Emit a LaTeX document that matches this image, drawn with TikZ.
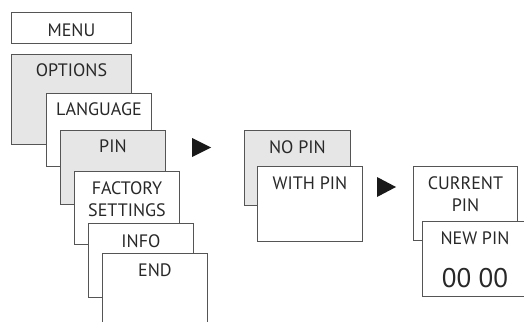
\documentclass[tikz,border=0pt]{standalone}
\usepackage{fontspec}
\setmainfont{PT Sans}
\usetikzlibrary{positioning}
\definecolor{screengray}{RGB}{230,230,231}
\definecolor{linegray}{RGB}{85,85,85}
\definecolor{textgray}{RGB}{40,40,40}
\tikzset{
every picture/.style={x=1pt, y=-1pt}
}
\tikzset{
  screen/.style={draw=linegray, line width=0.9pt, fill=white, anchor=north west,
    inner sep=0pt, minimum width=105pt, minimum height=74pt},
  active/.style={screen, fill=screengray},
  caption/.style={anchor=base, inner sep=0pt, text=textgray, align=center,
    font=\fontsize{18}{22}\selectfont},
  bigcaption/.style={caption, font=\fontsize{27}{30}\selectfont},
  play/.style={fill=black!90}
}

\begin{document}
\begin{tikzpicture}
    \useasboundingbox (0,0) rectangle (524,321);
    \clip (0,0) rectangle (524,321);
    % main menu column
    \node[screen, minimum width=120pt, minimum height=31pt] (menu) at (11,12) {};
    \node[caption] (menutxt) at ([yshift=-25pt]menu.north) {MENU};
    \node[active, minimum width=120pt, minimum height=90pt] (options) at (11,54) {};
    \node[caption] (optionstxt) at ([yshift=-22pt]options.north) {OPTIONS};
    \node[screen, minimum height=73pt] (language) at (46,93) {};
    \node[caption] (languagetxt) at ([yshift=-22pt]language.north) {LANGUAGE};
    \node[active] (pin) at (60,130) {};
    \node[caption] (pintxt) at ([yshift=-22pt]pin.north) {PIN};
    \node[screen, minimum height=73pt] (factory) at (74,171) {};
    \node[caption] (factorytxt) at ([yshift=-45pt]factory.north) {FACTORY\\SETTINGS};
    \node[screen] (info) at (88,223) {};
    \node[caption] (infotxt) at ([yshift=-24pt]info.north) {INFO};
    \node[screen, minimum height=100pt] (end) at (102,253) {};
    \node[caption] (endtxt) at ([yshift=-23pt]end.north) {END};
    % pin choice
    \fill[play] (192,138) -- (211,147.5) -- (192,157) -- cycle;
    \node[active, minimum width=106pt, minimum height=75pt] (nopin) at (244,130) {};
    \node[caption] (nopintxt) at ([yshift=-23pt]nopin.north) {NO PIN};
    \node[screen, minimum height=75pt] (withpin) at (257,166) {};
    \node[caption] (withpintxt) at ([yshift=-23pt]withpin.north) {WITH PIN};
    % pin entry
    \fill[play] (377,177) -- (396,187) -- (377,197) -- cycle;
    \node[screen, minimum width=104pt] (current) at (413,166) {};
    \node[caption] (currenttxt) at ([yshift=-45pt]current.north) {CURRENT\\PIN};
    \node[screen, minimum height=75pt] (newpin) at (422,221) {};
    \node[caption] (newpintxt) at ([yshift=-23pt]newpin.north) {NEW PIN};
    \node[bigcaption] (code) at ([yshift=-66pt]newpin.north) {00 00};
  \end{tikzpicture}
\end{document}
